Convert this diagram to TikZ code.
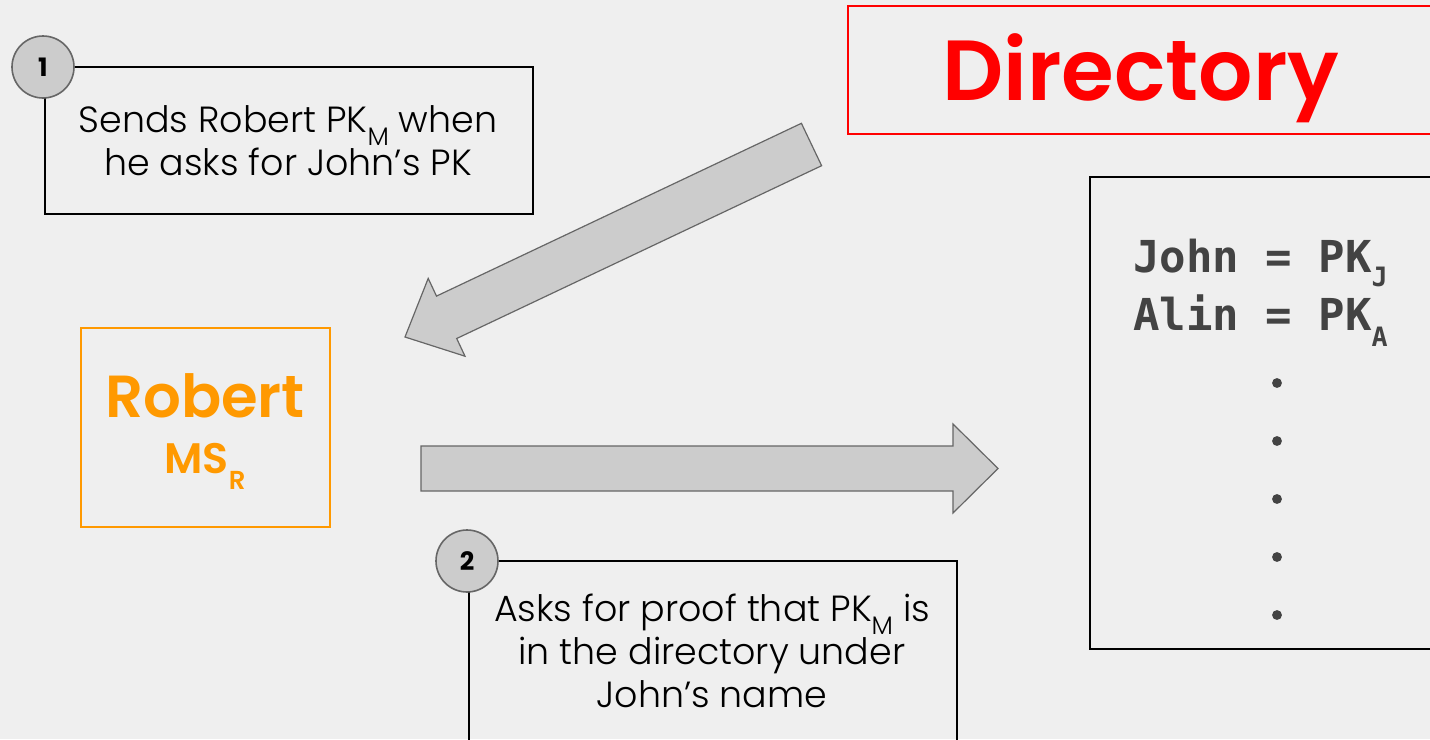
\documentclass[tikz,border=0pt]{standalone}
\usepackage{fontspec}
\newfontfamily\bodyfont{Poppins Light}
\newfontfamily\headfont{Poppins SemiBold}
\newfontfamily\numfont{Poppins Bold}
\newfontfamily\codefont{DejaVu Sans Mono Bold}
\definecolor{bg}{HTML}{EFEFEF}
\definecolor{arrowfill}{HTML}{CCCCCC}
\definecolor{arrowline}{HTML}{666666}
\definecolor{robertorange}{HTML}{FF9900}
\definecolor{dirred}{HTML}{FF0000}
\definecolor{codegray}{HTML}{434343}
% lowered small text used as a subscript
\newcommand\lowsub[3]{\raisebox{-#1}{\fontsize{#2}{#2}\selectfont #3}}
\tikzset{
  notebox/.style={draw=black, line width=1.2pt, anchor=north west, inner sep=0pt},
  stepnum/.style={circle, draw=arrowline, fill=arrowfill, line width=1.2pt,
                  minimum size=46.5pt, inner sep=0pt, font=\numfont\fontsize{19}{19}\selectfont},
  notetext/.style={align=center, inner sep=0pt, font=\bodyfont\fontsize{27.3}{32.25}\selectfont},
  fatarrow/.style={fill=arrowfill, draw=arrowline, line width=0.9pt, line join=miter},
  codeline/.style={anchor=base west, inner sep=0pt, text=codegray, font=\codefont\fontsize{33}{33}\selectfont}
}
\begin{document}
\begin{tikzpicture}[x=0.75pt,y=-0.75pt]
\fill[bg] (0,0) rectangle (1430,739);
\useasboundingbox (0,0) rectangle (1430,739);
\clip (0,0) rectangle (1430,739);

% directory header
\node[draw=dirred, line width=1.2pt, anchor=north west, inner sep=0pt,
      minimum width=450pt, minimum height=96pt] (dirbox) at (847,5) {};
\node[anchor=base, inner sep=0pt, text=dirred, font=\headfont\fontsize{64}{64}\selectfont]
      (dirtitle) at (1141,100) {Directory};

% directory entries
\node[draw=black, line width=1.2pt, anchor=north west, inner sep=0pt,
      minimum width=270pt, minimum height=354pt] (dirlist) at (1089,176) {};
\node[codeline] (john) at (1133,272) {John = PK\lowsub{11pt}{20}{J}};
\node[codeline] (alin) at (1133,330) {Alin = PK\lowsub{12pt}{20}{A}};
\foreach \yy in {383,441,499,557,615}
  \fill[codegray] (1277,\yy) circle (3.7pt);

% Robert
\node[draw=robertorange, line width=1.3pt, anchor=north west, inner sep=0pt,
      minimum width=186.75pt, minimum height=149.25pt] (robert) at (80,327) {};
\node[anchor=base, inner sep=0pt, text=robertorange, font=\headfont\fontsize{44.5}{44.5}\selectfont]
      (robertname) at (205,417) {Robert};
\node[anchor=base, inner sep=0pt, text=robertorange, font=\headfont\fontsize{32}{32}\selectfont]
      (robertms) at (205,473) {MS\lowsub{12pt}{19.5}{R}};

% fat arrows
\fill[fatarrow] (801.4,123.3) -- (436.5,296.1) -- (428.2,278.4) -- (405,337)
  -- (465,356.2) -- (456.7,338.5) -- (821.6,165.7) -- cycle;
\fill[fatarrow] (421,446) -- (953,446) -- (953,424) -- (998,468.5)
  -- (953,513) -- (953,491) -- (421,491) -- cycle;

% step 1
\node[notebox, minimum width=366pt, minimum height=110.25pt] (note1) at (44,66) {};
\node[stepnum] (num1) at (43,67) {1};
\node[notetext] (text1) at (288,141)
  {Sends Robert PK\lowsub{9.5pt}{19}{M} when\\he asks for John’s PK};

% step 2
\node[notebox, minimum width=366pt, minimum height=150pt] (note2) at (468,560) {};
\node[stepnum] (num2) at (467,561) {2};
\node[notetext] (text2) at (712,651)
  {Asks for proof that PK\lowsub{9.5pt}{19}{M} is\\in the directory under\\John’s name};
\end{tikzpicture}
\end{document}
